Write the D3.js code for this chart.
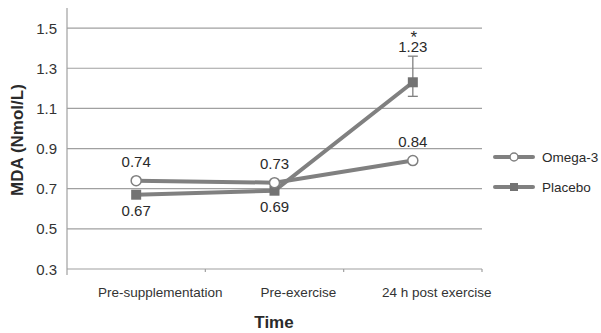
<!DOCTYPE html>
<html>
<head>
<meta charset="utf-8">
<script src="https://cdn.jsdelivr.net/npm/d3@7"></script>
<style>
  body { margin: 0; background: #fff; }
  svg { font-family: Arial, "Liberation Sans", sans-serif; }
</style>
</head>
<body>
<div id="chart"></div>
<script>
'use strict';

const categories = ['Pre-supplementation', 'Pre-exercise', '24 h post exercise'];
const omega3 = [0.74, 0.73, 0.84];
const placebo = [0.67, 0.69, 1.23];
const placeboUpper = [null, null, 1.36];
const placeboLower = [null, null, 1.16];
const yTicks = [0.3, 0.5, 0.7, 0.9, 1.1, 1.3, 1.5];

const width = 601, height = 333;
const margin = {top: 8, right: 119, bottom: 64, left: 67};

const $svg = d3.select('#chart').append('svg')
  .attr('width', width)
  .attr('height', height);

const x = d3.scaleBand()
  .domain(categories)
  .range([margin.left, width - margin.right]);

const y = d3.scaleLinear()
  .domain([0.3, 1.6])
  .range([269, 8]);

const cx = (d, i) => x(categories[i]) + x.bandwidth() / 2;
const grey = '#808080';
const textCol = '#2a2a2a';

// gridlines
$svg.append('g').selectAll('line')
  .data(yTicks)
  .enter()
  .append('line')
  .attr('x1', margin.left).attr('x2', width - margin.right)
  .attr('y1', (d) => y(d)).attr('y2', (d) => y(d))
  .attr('stroke', '#a0a0a0').attr('stroke-width', 1.2);

// y axis line
$svg.append('line')
  .attr('x1', margin.left).attr('x2', margin.left)
  .attr('y1', y(1.6)).attr('y2', y(0.3) + 6)
  .attr('stroke', '#a0a0a0').attr('stroke-width', 1.2);

// category ticks
$svg.append('g').selectAll('line')
  .data(categories)
  .enter()
  .append('line')
  .attr('x1', (d) => x(d) + x.bandwidth())
  .attr('x2', (d) => x(d) + x.bandwidth())
  .attr('y1', y(0.3)).attr('y2', y(0.3) + 3)
  .attr('stroke', '#a0a0a0').attr('stroke-width', 1.2);

// y tick labels
$svg.append('g').selectAll('text')
  .data(yTicks)
  .enter()
  .append('text')
  .attr('x', 57)
  .attr('y', (d) => y(d) + 5.5)
  .attr('text-anchor', 'end')
  .attr('font-size', 15)
  .attr('fill', '#333')
  .text((d) => d3.format('.1f')(d));

// category labels (sit a little right of the point positions)
$svg.append('g').selectAll('text')
  .data(categories)
  .enter()
  .append('text')
  .attr('x', (d) => x(d) + x.bandwidth() / 2 + 24)
  .attr('y', 297)
  .attr('text-anchor', 'middle')
  .attr('font-size', 13.5)
  .attr('fill', '#333')
  .text((d) => d);

// axis titles
$svg.append('text')
  .attr('x', 274).attr('y', 328)
  .attr('text-anchor', 'middle')
  .attr('font-size', 17).attr('font-weight', 'bold')
  .attr('fill', textCol)
  .text('Time');

$svg.append('text')
  .attr('transform', 'translate(23,' + 140 + ') rotate(-90)')
  .attr('text-anchor', 'middle')
  .attr('font-size', 17).attr('font-weight', 'bold')
  .attr('fill', textCol)
  .text('MDA (Nmol/L)');

const line = d3.line()
  .x(cx)
  .y((d) => y(d));

// error bars (placebo)
const $err = $svg.append('g').selectAll('g')
  .data(placebo.map((v, i) => ({i: i, hi: placeboUpper[i], lo: placeboLower[i]})).filter((d) => d.hi != null))
  .enter()
  .append('g')
  .attr('stroke', '#808080').attr('stroke-width', 1.3);
$err.append('line')
  .attr('x1', (d) => cx(null, d.i)).attr('x2', (d) => cx(null, d.i))
  .attr('y1', (d) => y(d.hi)).attr('y2', (d) => y(d.lo));
$err.append('line')
  .attr('x1', (d) => cx(null, d.i) - 5).attr('x2', (d) => cx(null, d.i) + 5)
  .attr('y1', (d) => y(d.hi)).attr('y2', (d) => y(d.hi));
$err.append('line')
  .attr('x1', (d) => cx(null, d.i) - 5).attr('x2', (d) => cx(null, d.i) + 5)
  .attr('y1', (d) => y(d.lo)).attr('y2', (d) => y(d.lo));

// lines
$svg.append('path')
  .datum(omega3)
  .attr('d', line)
  .attr('fill', 'none').attr('stroke', grey).attr('stroke-width', 4);
$svg.append('path')
  .datum(placebo)
  .attr('d', line)
  .attr('fill', 'none').attr('stroke', grey).attr('stroke-width', 4);

// markers
$svg.append('g').selectAll('rect')
  .data(placebo)
  .enter()
  .append('rect')
  .attr('x', (d, i) => cx(d, i) - 5)
  .attr('y', (d) => y(d) - 5)
  .attr('width', 10).attr('height', 10)
  .attr('fill', '#737373');
$svg.append('g').selectAll('circle')
  .data(omega3)
  .enter()
  .append('circle')
  .attr('cx', cx)
  .attr('cy', (d) => y(d))
  .attr('r', 5)
  .attr('fill', '#fff').attr('stroke', grey).attr('stroke-width', 1.5);

// value labels
$svg.append('g').selectAll('text')
  .data(omega3)
  .enter()
  .append('text')
  .attr('x', cx)
  .attr('y', (d) => y(d) - 14)
  .attr('text-anchor', 'middle')
  .attr('font-size', 15).attr('fill', textCol)
  .text((d) => d3.format('.2f')(d));

$svg.append('g').selectAll('text')
  .data(placebo)
  .enter()
  .append('text')
  .attr('x', cx)
  .attr('y', (d, i) => placeboUpper[i] != null ? y(placeboUpper[i]) - 4 : y(d) + 21)
  .attr('text-anchor', 'middle')
  .attr('font-size', 15).attr('fill', textCol)
  .text((d) => d3.format('.2f')(d));

// significance star
$svg.append('g').selectAll('text')
  .data(placebo.map((v, i) => i).filter((i) => placeboUpper[i] != null))
  .enter()
  .append('text')
  .attr('x', (i) => cx(null, i) + 1)
  .attr('y', (i) => y(placeboUpper[i]) - 13)
  .attr('text-anchor', 'middle')
  .attr('font-size', 17).attr('fill', textCol)
  .text('*');

// legend
const legend = [
  {name: 'Omega-3', type: 'circle'},
  {name: 'Placebo', type: 'rect'}
];
const $leg = $svg.append('g').selectAll('g')
  .data(legend)
  .enter()
  .append('g')
  .attr('transform', (d, i) => 'translate(495,' + (157 + i * 30) + ')');
$leg.append('line')
  .attr('x1', 0).attr('x2', 38)
  .attr('stroke', grey).attr('stroke-width', 4).attr('stroke-linecap', 'round');
$leg.filter((d) => d.type === 'circle').append('circle')
  .attr('cx', 19).attr('r', 4)
  .attr('fill', '#fff').attr('stroke', grey).attr('stroke-width', 1.5);
$leg.filter((d) => d.type === 'rect').append('rect')
  .attr('x', 15).attr('y', -4).attr('width', 8).attr('height', 8)
  .attr('fill', '#737373');
$leg.append('text')
  .attr('x', 47).attr('y', 5)
  .attr('font-size', 13.5).attr('fill', textCol)
  .text((d) => d.name);
</script>
</body>
</html>
